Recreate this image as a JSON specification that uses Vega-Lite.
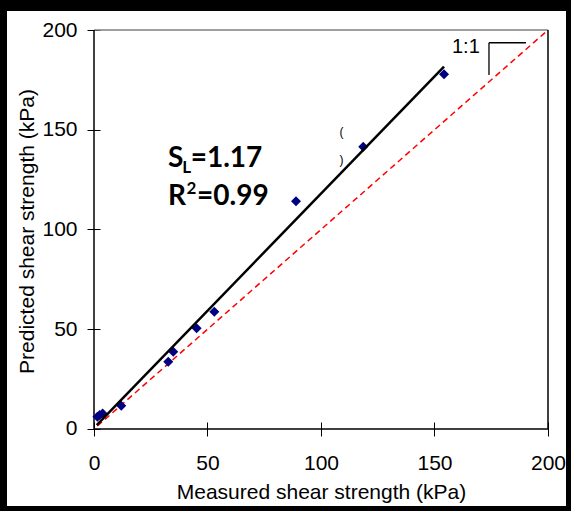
{
  "$schema": "https://vega.github.io/schema/vega-lite/v6.json",
  "width": 571,
  "height": 511,
  "autosize": {"type": "none"},
  "padding": 0,
  "background": "white",
  "config": {"view": {"stroke": null}, "font": "Liberation Sans"},
  "datasets": {
    "points": [
      {"x": 1.5, "y": 6.2},
      {"x": 2.5, "y": 7.0},
      {"x": 3.8, "y": 7.8},
      {"x": 12.0, "y": 11.7},
      {"x": 32.7, "y": 33.7},
      {"x": 34.9, "y": 38.7},
      {"x": 45.2, "y": 50.5},
      {"x": 53.0, "y": 58.8},
      {"x": 89.0, "y": 114.2},
      {"x": 118.6, "y": 141.5},
      {"x": 154.2, "y": 177.8}
    ],
    "fit": [{"x": 1.2, "y": 2.0}, {"x": 154.2, "y": 181.6}],
    "oneToOne": [{"x": 1.5, "y": 1.5}, {"x": 200, "y": 200}],
    "axisLines": [
      {"x": 0, "y": 0, "xe": 200, "ye": 0},
      {"x": 0, "y": 0, "xe": 0, "ye": 200},
      {"x": 200, "y": 0, "xe": 200, "ye": 200}
    ],
    "topLine": [{"x": 0, "y": 200, "xe": 200, "ye": 200}],
    "slopeMark": [
      {"x": 174.0, "y": 193.6, "xe": 190.3, "ye": 193.6},
      {"x": 174.0, "y": 193.6, "xe": 174.0, "ye": 177.4}
    ],
    "borderLeft": [{"x": -41.4097, "y": -41.1028, "xe": -41.4097, "ye": 215.0376}],
    "borderThin": [
      {"x": 210.1322, "y": -41.1028, "xe": 210.1322, "ye": 215.0376},
      {"x": -41.4097, "y": -41.1028, "xe": 210.1322, "ye": -41.1028}
    ],
    "borderTop": [{"x": -41.4097, "y": 215.0376, "xe": 210.1322, "ye": 215.0376}],
    "bigText": [
      {"x": 32.6, "y": 131.3, "t": "S"},
      {"x": 42.6, "y": 131.3, "t": "=1.17"},
      {"x": 32.6, "y": 112.3, "t": "R"},
      {"x": 45.4, "y": 112.3, "t": "=0.99"}
    ],
    "subText": [{"x": 38.9, "y": 128.3, "t": "L"}],
    "supText": [{"x": 40.8, "y": 117.6, "t": "2"}],
    "ratioText": [{"x": 157.7, "y": 188.5, "t": "1:1"}],
    "parens": [
      {"x": 109.0, "y": 148.9, "t": "("},
      {"x": 109.0, "y": 134.8, "t": ")"}
    ]
  },
  "encoding": {
    "x": {
      "field": "x",
      "type": "quantitative",
      "scale": {"domain": [-41.4097, 210.1322], "nice": false, "zero": false},
      "axis": {
        "title": "Measured shear strength (kPa)",
        "values": [0, 50, 100, 150, 200],
        "domain": false,
        "grid": false,
        "ticks": true,
        "tickColor": "black",
        "tickWidth": 1,
        "tickSize": 14,
        "offset": -89,
        "labelFont": "Liberation Sans",
        "labelFontSize": 21,
        "labelColor": "black",
        "labelPadding": 16,
        "labelFlush": false,
        "labelOverlap": false,
        "titleFont": "Liberation Sans",
        "titleFontSize": 21,
        "titleFontWeight": "normal",
        "titleColor": "black",
        "titlePadding": 8,
        "titleX": 321
      }
    },
    "y": {
      "field": "y",
      "type": "quantitative",
      "scale": {"domain": [-41.1028, 215.0376], "nice": false, "zero": false},
      "axis": {
        "title": "Predicted shear strength (kPa)",
        "values": [0, 50, 100, 150, 200],
        "domain": false,
        "grid": false,
        "ticks": true,
        "tickColor": "black",
        "tickWidth": 1,
        "tickSize": 13,
        "offset": -100,
        "labelFont": "Liberation Sans",
        "labelFontSize": 21,
        "labelColor": "black",
        "labelPadding": 10,
        "labelFlush": false,
        "labelOverlap": false,
        "titleFont": "Liberation Sans",
        "titleFontSize": 21,
        "titleFontWeight": "normal",
        "titleColor": "black",
        "titlePadding": 4,
        "titleY": 231
      }
    }
  },
  "layer": [
    {
      "data": {"name": "borderLeft"},
      "mark": {"type": "rule", "color": "black", "strokeWidth": 14},
      "encoding": {"x2": {"field": "xe"}, "y2": {"field": "ye"}}
    },
    {
      "data": {"name": "borderThin"},
      "mark": {"type": "rule", "color": "black", "strokeWidth": 10},
      "encoding": {"x2": {"field": "xe"}, "y2": {"field": "ye"}}
    },
    {
      "data": {"name": "borderTop"},
      "mark": {"type": "rule", "color": "black", "strokeWidth": 22},
      "encoding": {"x2": {"field": "xe"}, "y2": {"field": "ye"}}
    },
    {
      "data": {"name": "topLine"},
      "mark": {"type": "rule", "color": "#808080", "strokeWidth": 1.5},
      "encoding": {"x2": {"field": "xe"}, "y2": {"field": "ye"}}
    },
    {
      "data": {"name": "axisLines"},
      "mark": {"type": "rule", "color": "black", "strokeWidth": 1.5},
      "encoding": {"x2": {"field": "xe"}, "y2": {"field": "ye"}}
    },
    {
      "data": {"name": "oneToOne"},
      "mark": {"type": "line", "color": "#FF0000", "strokeWidth": 1.5, "strokeDash": [6, 4]},
      "encoding": {}
    },
    {
      "data": {"name": "points"},
      "mark": {"type": "point", "shape": "diamond", "size": 100, "filled": true, "color": "#000080", "opacity": 1},
      "encoding": {}
    },
    {
      "data": {"name": "fit"},
      "mark": {"type": "line", "color": "black", "strokeWidth": 2.5},
      "encoding": {}
    },
    {
      "data": {"name": "slopeMark"},
      "mark": {"type": "rule", "color": "black", "strokeWidth": 1.3},
      "encoding": {"x2": {"field": "xe"}, "y2": {"field": "ye"}}
    },
    {
      "data": {"name": "bigText"},
      "mark": {"type": "text", "font": "Lato", "fontWeight": "bold", "fontSize": 28, "align": "left", "baseline": "alphabetic", "color": "black"},
      "encoding": {"text": {"field": "t"}}
    },
    {
      "data": {"name": "subText"},
      "mark": {"type": "text", "font": "Lato", "fontWeight": "bold", "fontSize": 17, "align": "left", "baseline": "alphabetic", "color": "black"},
      "encoding": {"text": {"field": "t"}}
    },
    {
      "data": {"name": "supText"},
      "mark": {"type": "text", "font": "Lato", "fontWeight": "bold", "fontSize": 17, "align": "left", "baseline": "alphabetic", "color": "black"},
      "encoding": {"text": {"field": "t"}}
    },
    {
      "data": {"name": "ratioText"},
      "mark": {"type": "text", "font": "Liberation Sans", "fontSize": 20, "align": "left", "baseline": "alphabetic", "color": "black"},
      "encoding": {"text": {"field": "t"}}
    },
    {
      "data": {"name": "parens"},
      "mark": {"type": "text", "font": "Liberation Sans", "fontSize": 12, "align": "center", "baseline": "middle", "color": "black"},
      "encoding": {"text": {"field": "t"}}
    }
  ]
}
